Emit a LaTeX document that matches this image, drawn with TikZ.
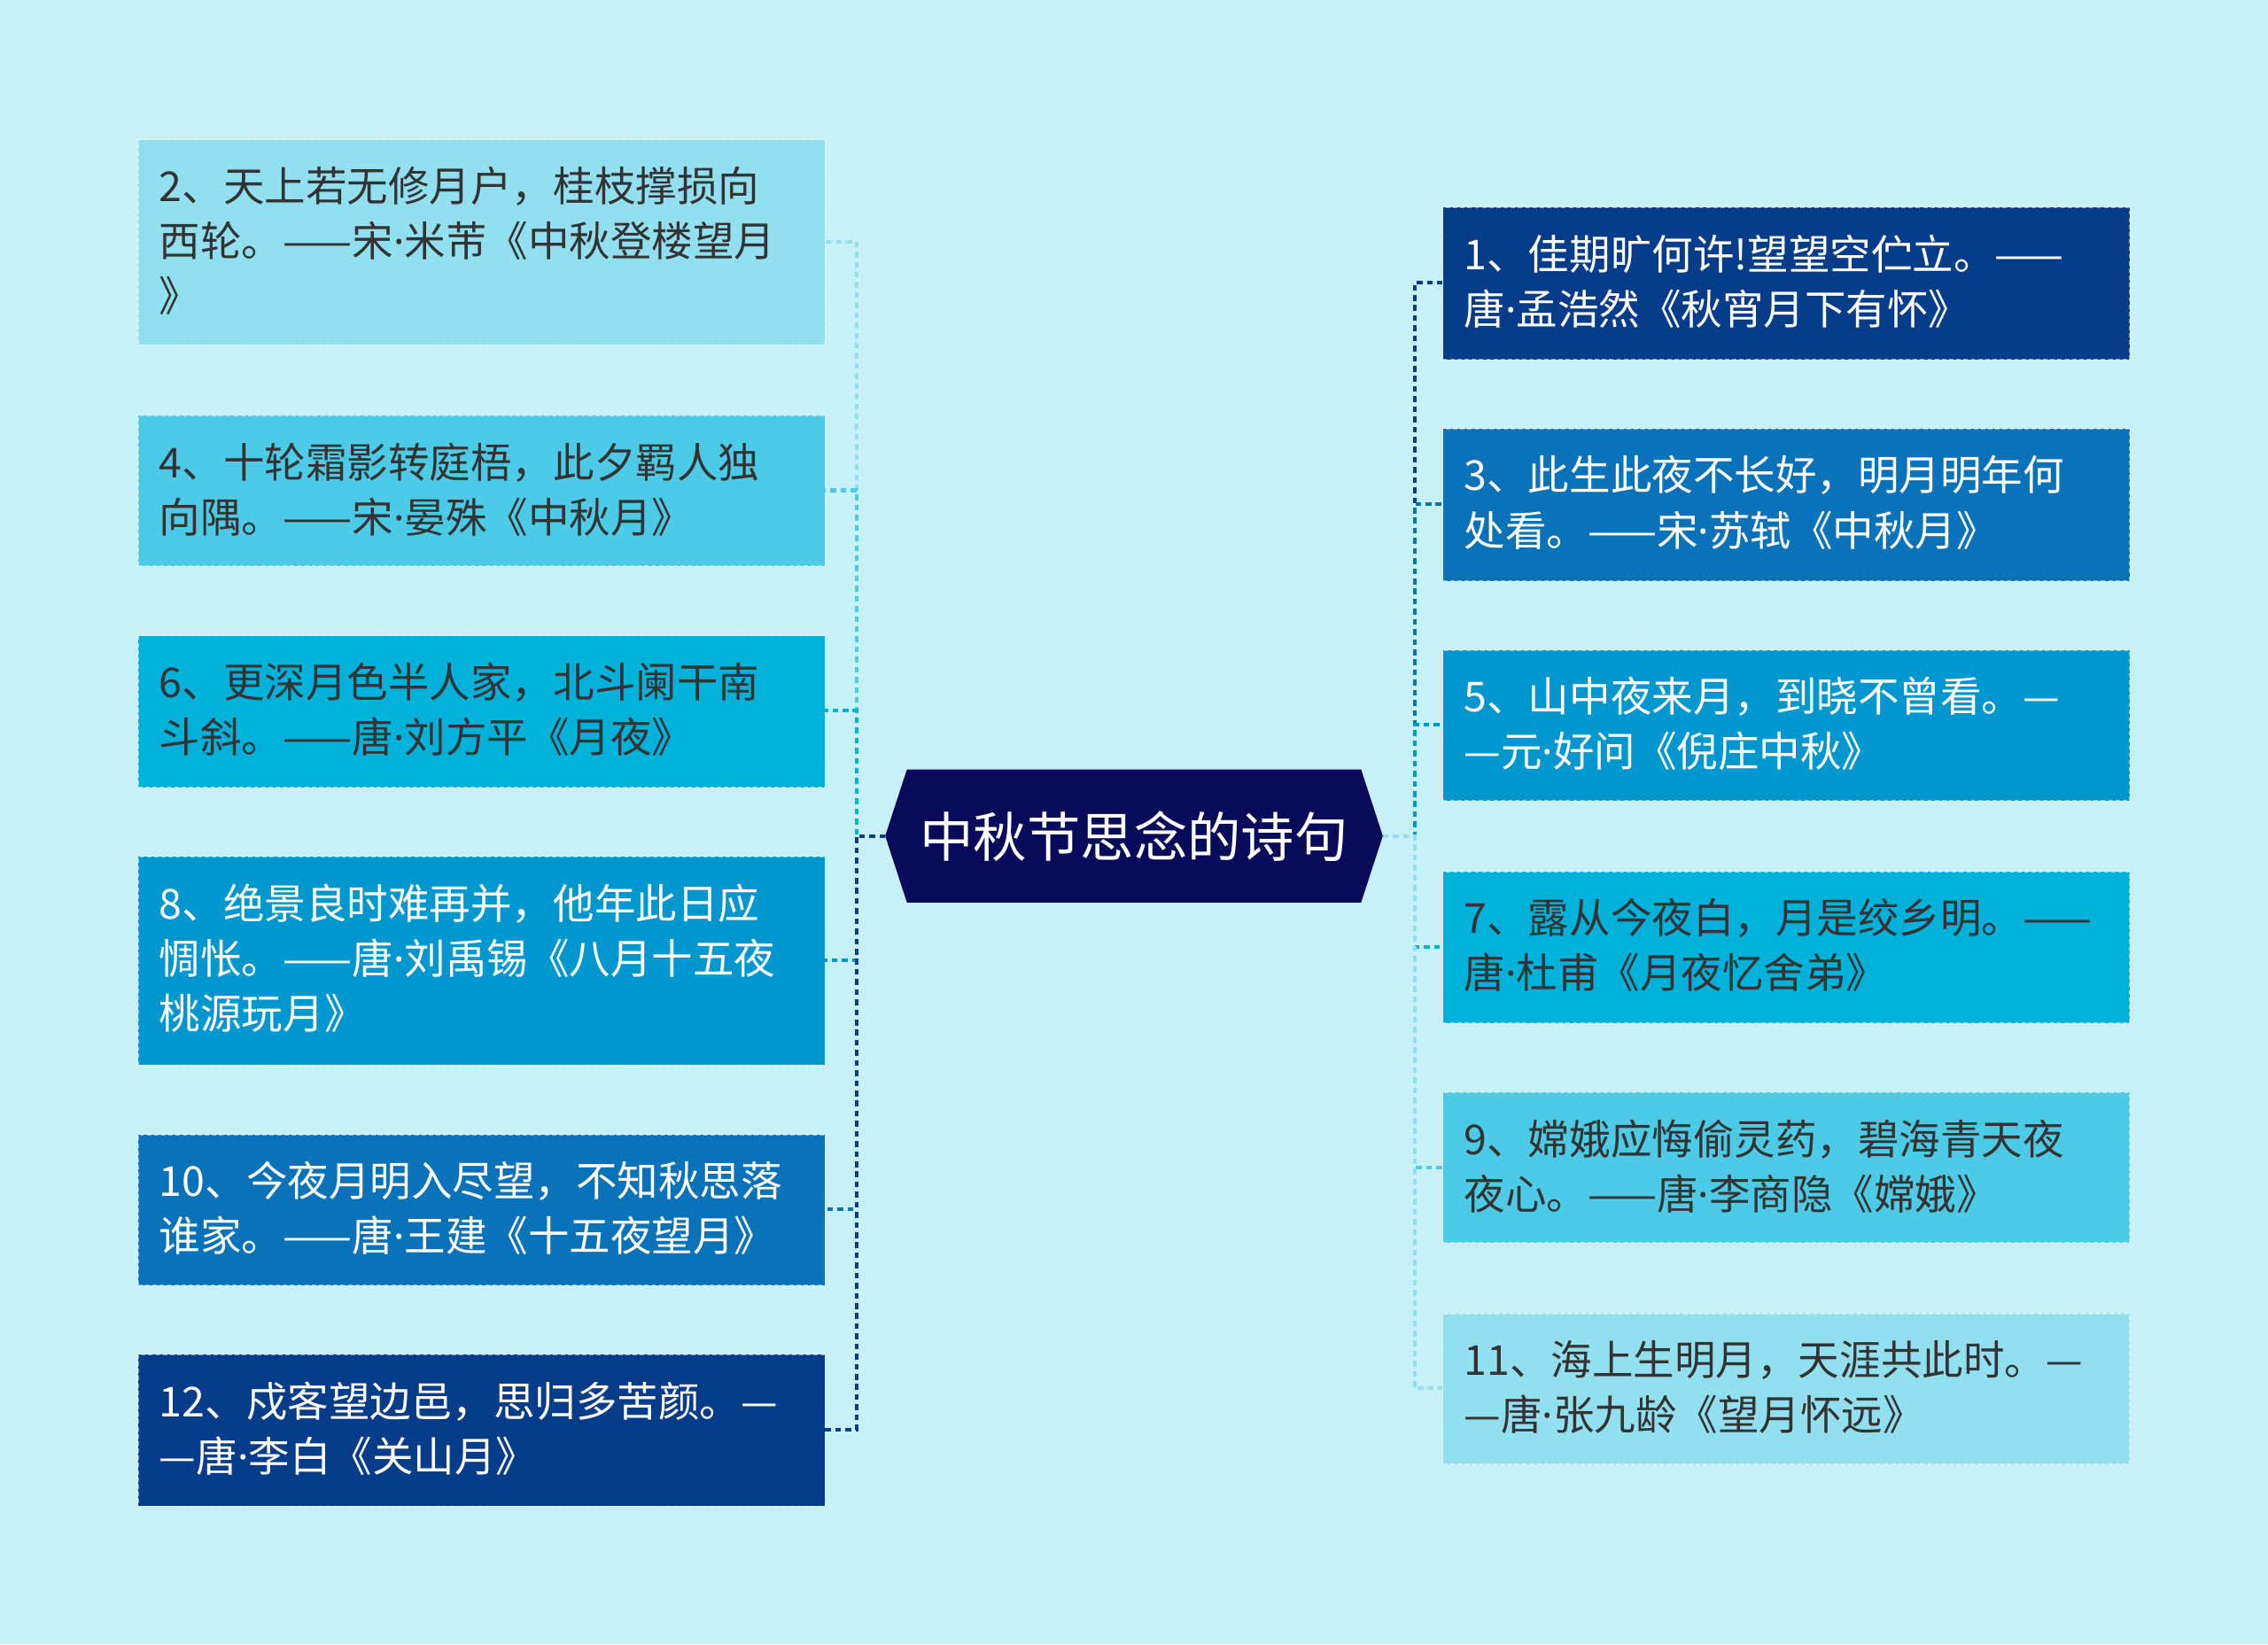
\documentclass[tikz,border=0pt]{standalone}
\usepackage{fontspec}
\setmainfont{Noto Sans CJK SC}
\newfontfamily\latinf{Noto Sans}
\newcommand\dt{{\latinf ·}}
\usetikzlibrary{shapes.geometric}
\definecolor{bg}{HTML}{C8F0F7}
\definecolor{cA}{HTML}{91DFEF}
\definecolor{cB}{HTML}{4DCBE6}
\definecolor{cC}{HTML}{00B2DA}
\definecolor{cD}{HTML}{0097CF}
\definecolor{cE}{HTML}{0A72B8}
\definecolor{cF}{HTML}{063C8A}
\definecolor{ctr}{HTML}{0A0A5A}
\definecolor{dk}{HTML}{333333}
\tikzset{
 leaf/.style={anchor=north west,minimum width=475pt,inner sep=0pt,draw=white,draw opacity=0.5,densely dashed,line width=1pt},
 leaftext/.style={anchor=north west,text width=460pt,align=left,font=\fontsize{28.5}{38}\selectfont,inner sep=0pt},
 conn/.style={dashed,dash pattern=on 4pt off 3pt,line width=2.5pt},
}
\begin{document}
\begin{tikzpicture}[x=1pt,y=-1pt]
\fill[bg] (0,0) rectangle (1568,1137);
\useasboundingbox (0,0) rectangle (1568,1137);
\fill[ctr] (612,578) -- (627,532) -- (941,532) -- (956,578) -- (941,624) -- (627,624) -- cycle;
\node[text=white,font=\fontsize{37}{40}\selectfont] (c) at (784,578) {中秋节思念的诗句};
\coordinate (cl) at (612,578);
\coordinate (cr) at (956,578);
\newcommand\lbox[6]{%
 \node[leaf,fill=#4,minimum height={(#3-#2)*1pt}] (#1) at (95,#2) {};
 \node[leaftext,text=#5] at (110,{#2+19}) {#6};
 \coordinate (#1e) at (570,{(#2+#3)/2});
 \draw[conn,#4] (cl) -- (592,578) -- (592,{(#2+#3)/2}) -- (#1e);
}
\newcommand\rbox[6]{%
 \node[leaf,fill=#4,minimum height={(#3-#2)*1pt}] (#1) at (997,#2) {};
 \node[leaftext,text=#5] at (1012,{#2+19}) {#6};
 \coordinate (#1e) at (997,{(#2+#3)/2});
 \draw[conn,#4] (cr) -- (978,578) -- (978,{(#2+#3)/2}) -- (#1e);
}
\lbox{l2}{96}{238}{cA}{dk}{2、天上若无修月户，桂枝撑损向\\西轮。——宋\dt 米芾《中秋登楼望月\\》}
\lbox{l4}{287}{391}{cB}{dk}{4、十轮霜影转庭梧，此夕羁人独\\向隅。——宋\dt 晏殊《中秋月》}
\lbox{l6}{439}{544}{cC}{dk}{6、更深月色半人家，北斗阑干南\\斗斜。——唐\dt 刘方平《月夜》}
\lbox{l8}{592}{736}{cD}{white}{8、绝景良时难再并，他年此日应\\惆怅。——唐\dt 刘禹锡《八月十五夜\\桃源玩月》}
\lbox{l10}{784}{888}{cE}{white}{10、今夜月明入尽望，不知秋思落\\谁家。——唐\dt 王建《十五夜望月》}
\lbox{l12}{936}{1041}{cF}{white}{12、戍客望边邑，思归多苦颜。—\\—唐\dt 李白《关山月》}
\rbox{r1}{143}{248}{cF}{white}{1、佳期旷何许!望望空伫立。——\\唐\dt 孟浩然《秋宵月下有怀》}
\rbox{r3}{296}{401}{cE}{white}{3、此生此夜不长好，明月明年何\\处看。——宋\dt 苏轼《中秋月》}
\rbox{r5}{449}{553}{cD}{white}{5、山中夜来月，到晓不曾看。—\\—元\dt 好问《倪庄中秋》}
\rbox{r7}{602}{707}{cC}{dk}{7、露从今夜白，月是绞乡明。——\\唐\dt 杜甫《月夜忆舍弟》}
\rbox{r9}{755}{859}{cB}{dk}{9、嫦娥应悔偷灵药，碧海青天夜\\夜心。——唐\dt 李商隐《嫦娥》}
\rbox{r11}{908}{1012}{cA}{dk}{11、海上生明月，天涯共此时。—\\—唐\dt 张九龄《望月怀远》}
\end{tikzpicture}
\end{document}
